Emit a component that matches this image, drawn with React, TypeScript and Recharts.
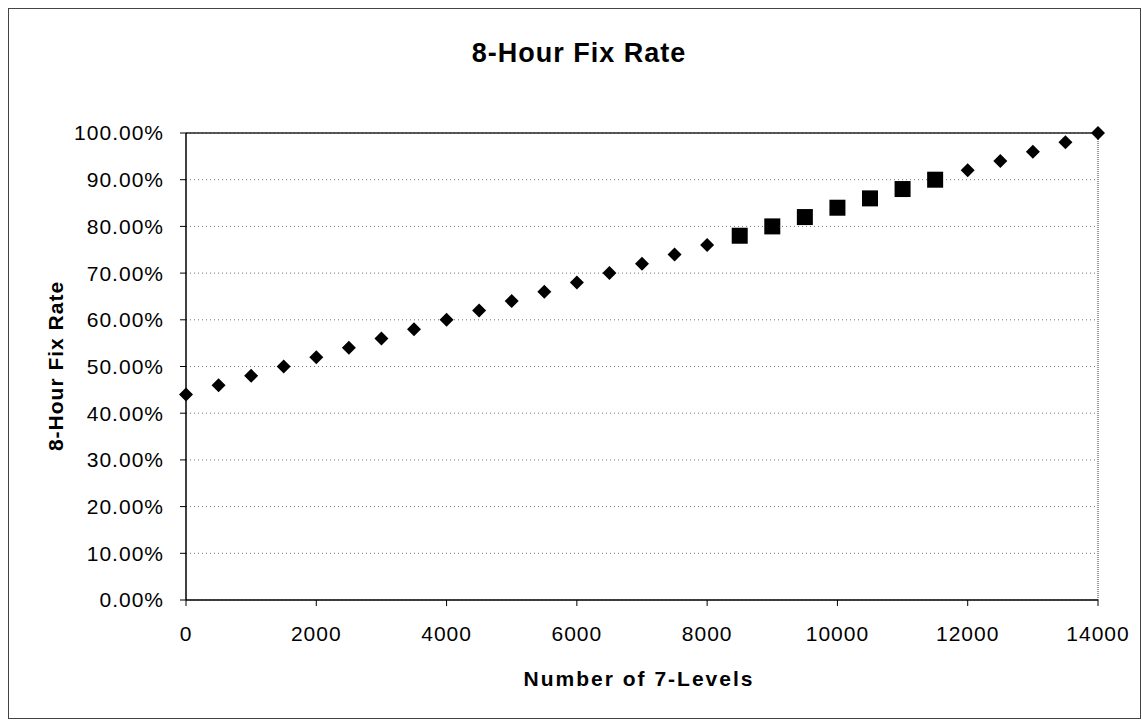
import React from "react";
import {
  ScatterChart,
  Scatter,
  XAxis,
  YAxis,
  CartesianGrid,
  ReferenceLine,
  Customized,
} from "recharts";

// Number of 7-levels (x) and 8-hour fix rate (y) for diamond markers
const diamondX = [0, 500, 1000, 1500, 2000, 2500, 3000, 3500, 4000, 4500, 5000, 5500, 6000, 6500, 7000, 7500, 8000, 12000, 12500, 13000, 13500, 14000];
const diamondY = [0.44, 0.46, 0.48, 0.50, 0.52, 0.54, 0.56, 0.58, 0.60, 0.62, 0.64, 0.66, 0.68, 0.70, 0.72, 0.74, 0.76, 0.92, 0.94, 0.96, 0.98, 1.0];

// Square markers
const squareX = [8500, 9000, 9500, 10000, 10500, 11000, 11500];
const squareY = [0.78, 0.80, 0.82, 0.84, 0.86, 0.88, 0.90];

const xTicks = [0, 2000, 4000, 6000, 8000, 10000, 12000, 14000];
const yTicks = [0, 0.1, 0.2, 0.3, 0.4, 0.5, 0.6, 0.7, 0.8, 0.9, 1.0];

const titleText = "8-Hour Fix Rate";
const yAxisTitle = "8-Hour Fix Rate";
const xAxisTitle = "Number of 7-Levels";

const diamondData = diamondX.map((x, i) => ({ x, y: diamondY[i] }));
const squareData = squareX.map((x, i) => ({ x, y: squareY[i] }));

const FONT = "'Liberation Sans', Arial, sans-serif";

const DiamondShape = (props: any) => {
  const { cx, cy } = props;
  const r = 7;
  return (
    <polygon
      points={`${cx},${cy - r} ${cx + r},${cy} ${cx},${cy + r} ${cx - r},${cy}`}
      fill="#000"
    />
  );
};

const SquareShape = (props: any) => {
  const { cx, cy } = props;
  const s = 16;
  return <rect x={cx - s / 2} y={cy - s / 2} width={s} height={s} fill="#000" />;
};

const Texts = () => (
  <g fontFamily={FONT} fontWeight="bold" fill="#000">
    <rect x={8.5} y={8.5} width={1132} height={710} fill="none" stroke="#444" strokeWidth={1} />
    <text x={579} y={62} textAnchor="middle" fontSize={27} letterSpacing={1}>
      {titleText}
    </text>
    <text
      x={63}
      y={366}
      textAnchor="middle"
      fontSize={21}
      letterSpacing={1}
      transform="rotate(-90, 63, 366)"
    >
      {yAxisTitle}
    </text>
    <text x={639} y={686} textAnchor="middle" fontSize={21} letterSpacing={2}>
      {xAxisTitle}
    </text>
  </g>
);

export default function App() {
  return (
    <div style={{ position: "absolute", left: 0, top: 0, width: 1142, height: 720, background: "#fff" }}>
      <ScatterChart
        width={1142}
        height={720}
        margin={{ top: 133, right: 44, bottom: 80, left: 66 }}
      >
        <CartesianGrid
          horizontal={true}
          vertical={false}
          stroke="#777"
          strokeDasharray="1 3"
        />
        <XAxis
          type="number"
          dataKey="x"
          domain={[0, 14000]}
          ticks={xTicks}
          height={40}
          tickSize={6}
          tickMargin={20}
          axisLine={{ stroke: "#000", strokeWidth: 1.5 }}
          tickLine={{ stroke: "#000" }}
          tick={{ fill: "#000", fontSize: 21, fontFamily: FONT, letterSpacing: 1 }}
        />
        <YAxis
          type="number"
          dataKey="y"
          domain={[0, 1]}
          ticks={yTicks}
          width={120}
          tickSize={6}
          tickMargin={16}
          axisLine={{ stroke: "#000", strokeWidth: 1.5 }}
          tickLine={{ stroke: "#000" }}
          tick={{ fill: "#000", fontSize: 21, fontFamily: FONT, letterSpacing: 1 }}
          tickFormatter={(v: number) => (v * 100).toFixed(2) + "%"}
        />
        <ReferenceLine y={1} stroke="#222" strokeWidth={1.5} />
        <ReferenceLine x={14000} stroke="#333" strokeDasharray="1 1" />
        <Scatter data={diamondData} shape={DiamondShape} isAnimationActive={false} />
        <Scatter data={squareData} shape={SquareShape} isAnimationActive={false} />
        <Customized component={Texts} />
      </ScatterChart>
    </div>
  );
}
